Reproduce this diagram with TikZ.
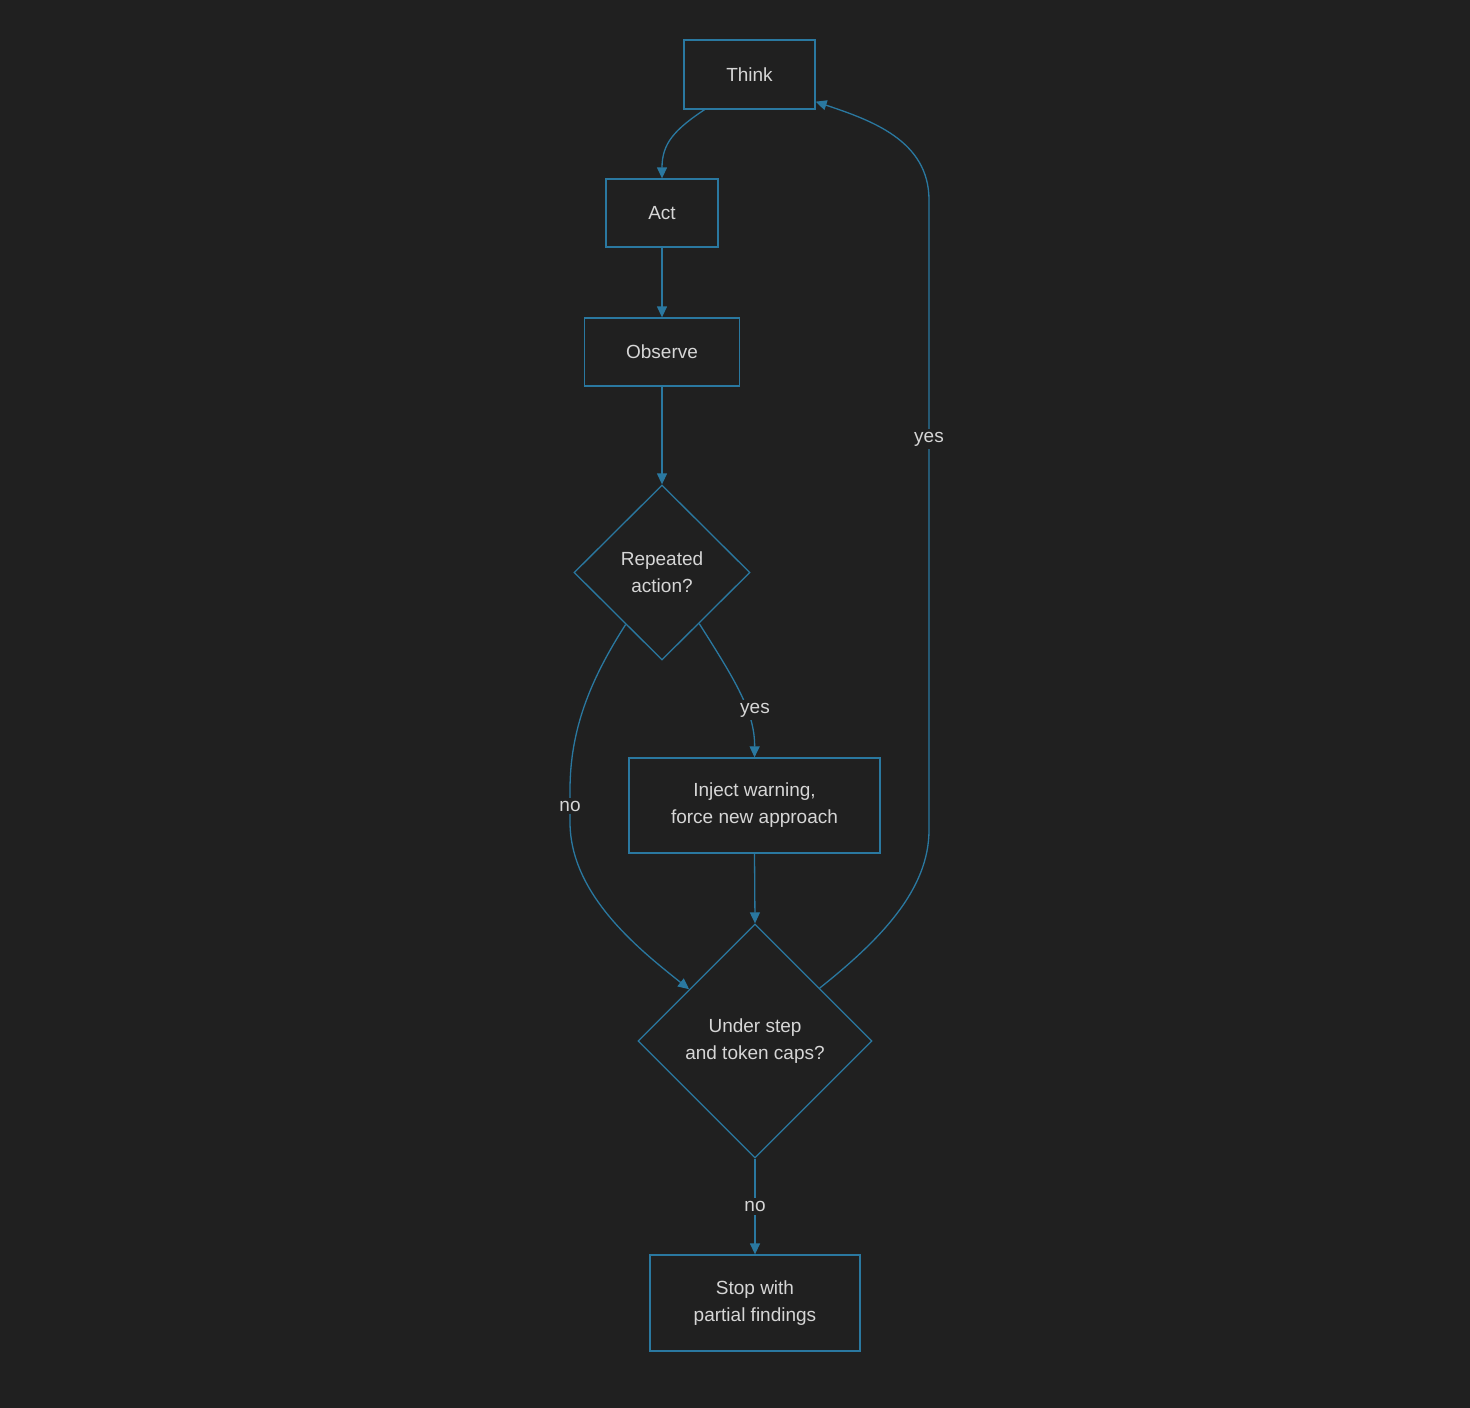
\documentclass[tikz,border=0pt]{standalone}
\usepackage{fontspec}
\setmainfont{Liberation Sans}
\usetikzlibrary{shapes.geometric,arrows.meta,calc}
\definecolor{bg}{HTML}{202020}
\definecolor{edge}{HTML}{2A78A0}
\definecolor{txt}{HTML}{D6D6D6}
\begin{document}
\begin{tikzpicture}[x=1pt,y=-1pt,
  every node/.style={font=\fontsize{19}{27}\selectfont, text=txt},
  box/.style={draw=edge, line width=1.3pt, fill=bg, rectangle, align=center, inner sep=0pt},
  dia/.style={draw=edge, line width=1.3pt, fill=bg, diamond, align=center, inner sep=0pt},
  arr/.style={draw=edge, line width=1.3pt, -{Triangle[length=11pt,width=10pt]}},
  lbl/.style={fill=bg, inner sep=3pt}]
\fill[bg] (0,0) rectangle (1470,1408);
\useasboundingbox (0,0) rectangle (1470,1408);

\node[box, minimum width=131pt, minimum height=69pt] (think) at (749.5,74.5) {Think};
\node[box, minimum width=112pt, minimum height=68pt] (act) at (662,213) {Act};
\node[box, minimum width=155pt, minimum height=68pt] (obs) at (662,352) {Observe};
\node[dia, minimum width=176pt, minimum height=175pt] (rep) at (662,572.5) {Repeated\\action?};
\node[box, minimum width=251pt, minimum height=95pt] (inj) at (754.5,805.5) {Inject warning,\\force new approach};
\node[dia, minimum width=234pt, minimum height=234pt] (und) at (755,1041) {Under step\\and token caps?};
\node[box, minimum width=210pt, minimum height=96pt] (stop) at (755,1303) {Stop with\\partial findings};

% edges
\draw[arr] ($(think.south west)!0.16!(think.south east)$) .. controls +(-30,20) and +(0,-35) .. (act.north);
\draw[arr] (act.south) -- (obs.north);
\draw[arr] (obs.south) -- (rep.north);
\draw[arr] ($(rep.south)!0.42!(rep.east)$) .. controls (735,680) and (755,712) .. (inj.north);
\node[lbl] (yes1) at (755,710) {yes};
\draw[arr] ($(rep.west)!0.59!(rep.south)$) .. controls (590,680) and (570,730) .. (570,790)
  -- node[lbl] (no1) {no} (570,822) .. controls (570,895) and (640,950) .. ($(und.west)!0.44!(und.north)$);
\draw[arr] (inj.south) -- (und.north);
\draw[arr] ($(und.north)!0.55!(und.east)$) .. controls (880,940) and (929,890) .. (929,830)
  -- node[lbl, pos=0.62] (yes2) {yes} (929,200) .. controls (929,140) and (870,120) .. ($(think.south east)+(0,-8)$);
\draw[arr] (und.south) -- node[lbl] (no2) {no} (stop.north);
\end{tikzpicture}
\end{document}
